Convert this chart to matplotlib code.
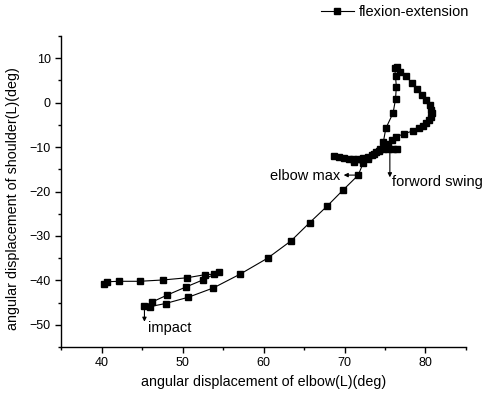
import matplotlib
matplotlib.use('Agg')
import matplotlib.pyplot as plt
from matplotlib.ticker import MultipleLocator

plt.rcParams['font.family'] = ['Liberation Sans', 'DejaVu Sans']

# elbow (x) and shoulder (y) angular displacement
elbow = [68.7, 69.3, 69.9, 70.5, 71.1, 71.7, 72.3, 72.9, 73.4, 73.9, 74.4, 75.0,
         74.8, 75.1, 76.0, 76.3, 76.4, 76.3, 76.2, 76.5, 76.9, 77.6, 78.3, 78.9,
         79.6, 80.1, 80.5, 80.7, 80.8, 80.7, 80.4, 80.1, 79.7, 79.2, 78.4, 77.3,
         76.3, 75.9, 75.4, 76.5, 76.0, 75.4, 74.8, 74.2, 73.6, 72.9, 71.2, 72.3,
         71.7, 69.8, 67.9, 65.7, 63.4, 60.5, 57.1, 53.8, 50.7, 47.9, 46.0, 45.3,
         46.2, 48.1, 50.4, 52.5, 54.5, 53.9, 52.8, 50.6, 47.6, 44.7, 42.2, 40.7,
         40.3]
shoulder = [-12.0, -12.3, -12.5, -12.6, -12.7, -12.6, -12.5, -12.2, -11.7, -11.0, -10.5, -10.0,
            -8.8, -5.8, -2.3, 0.8, 3.6, 5.9, 7.7, 8.0, 7.0, 5.9, 4.5, 3.1,
            1.7, 0.6, -0.5, -1.6, -2.4, -3.2, -3.9, -4.6, -5.3, -5.8, -6.4, -7.0,
            -7.8, -8.4, -9.4, -10.4, -10.4, -10.4, -10.5, -10.8, -11.6, -12.6, -13.4, -13.6,
            -16.3, -19.7, -23.2, -27.0, -31.1, -35.0, -38.6, -41.7, -43.8, -45.2, -45.9, -45.8,
            -44.9, -43.3, -41.5, -39.9, -38.1, -38.6, -38.7, -39.4, -39.9, -40.2, -40.2, -40.3,
            -40.8]

fig = plt.figure(figsize=(4.82, 3.98), dpi=100)
ax = fig.add_axes([0.1266, 0.128, 0.8402, 0.7815])

line, = ax.plot(elbow, shoulder, color='black', lw=0.8, marker='s',
                markersize=4.8, markerfacecolor='black', markeredgecolor='black',
                label='flexion-extension')

ax.set_xlim(35, 85)
ax.set_ylim(-55, 15)
ax.xaxis.set_major_locator(MultipleLocator(10))
ax.xaxis.set_minor_locator(MultipleLocator(5))
ax.yaxis.set_major_locator(MultipleLocator(10))
ax.yaxis.set_minor_locator(MultipleLocator(5))
ax.spines['top'].set_visible(False)
ax.spines['right'].set_visible(False)
ax.spines['left'].set_linewidth(1.0)
ax.spines['bottom'].set_linewidth(1.0)
ax.tick_params(which='major', direction='out', length=4.5, width=1.0, labelsize=9, pad=3)
ax.tick_params(which='minor', direction='out', length=2.5, width=1.0)

ax.set_xlabel('angular displacement of elbow(L)(deg)', fontsize=10.3, labelpad=4)
ax.set_ylabel('angular displacement of shoulder(L)(deg)', fontsize=10.3)
ax.yaxis.set_label_coords(-0.101, 0.476)

arrow = dict(arrowstyle='-|>', color='black', lw=0.8, mutation_scale=6,
             shrinkA=0, shrinkB=0)
ax.annotate('', xy=(69.9, -16.3), xytext=(71.7, -16.3), arrowprops=arrow)
ax.text(69.5, -16.4, 'elbow max', fontsize=10.5, ha='right', va='center')
ax.annotate('', xy=(75.6, -16.8), xytext=(75.6, -10.3), arrowprops=arrow)
ax.text(75.9, -17.8, 'forword swing', fontsize=10.5, ha='left', va='center', clip_on=False)
ax.annotate('', xy=(45.3, -49.3), xytext=(45.3, -45.8), arrowprops=arrow)
ax.text(45.8, -50.7, 'impact', fontsize=10.5, ha='left', va='center')

fig.legend(handles=[line], loc='center left', bbox_to_anchor=(0.665, 0.969),
           frameon=False, fontsize=10.5, handlelength=2.3, handletextpad=0.3,
           borderpad=0, borderaxespad=0)

fig.savefig('out.png', dpi=100)
